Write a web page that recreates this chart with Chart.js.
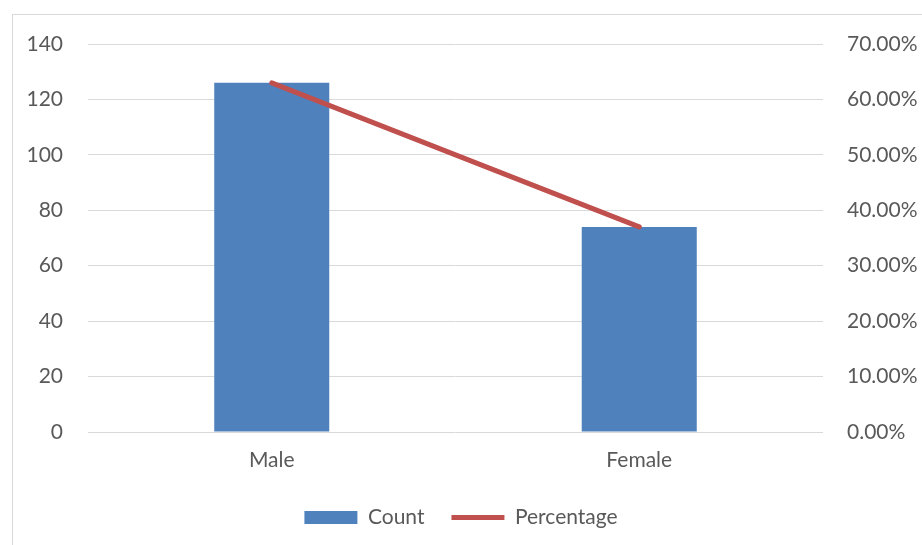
<!DOCTYPE html>
<html>
<head>
<meta charset="utf-8">
<script src="https://cdn.jsdelivr.net/npm/chart.js@4/dist/chart.umd.min.js"></script>
<style>
  html, body { margin: 0; padding: 0; background: #ffffff; }
  body { width: 922px; height: 545px; position: relative; overflow: hidden; }
  #frame { position: absolute; left: 12px; top: 14px; width: 1000px; height: 1000px; border: 1px solid #d9d9d9; box-sizing: border-box; }
  #chart { position: absolute; left: 0; top: 0; }
</style>
</head>
<body>
<div id="frame"></div>
<canvas id="chart" width="922" height="545"></canvas>
<script>
// Gender breakdown: counts on the left axis, share of total on the right axis
const categories = ['Male', 'Female'];
const counts = [126, 74];
const percentages = [63, 37];

const textColor = '#595959';
const fontFamily = 'Lato, "Open Sans", sans-serif';
const fontSize = 21;

new Chart(document.getElementById('chart'), {
  data: {
    labels: categories,
    datasets: [
      {
        type: 'bar',
        label: 'Count',
        data: counts,
        backgroundColor: '#4F81BD',
        borderWidth: 0,
        barPercentage: 0.313,
        categoryPercentage: 1,
        yAxisID: 'y',
        pointStyle: 'rect',
        order: 1
      },
      {
        type: 'line',
        label: 'Percentage',
        data: percentages,
        borderColor: '#C0504D',
        backgroundColor: '#C0504D',
        borderWidth: 5,
        borderCapStyle: 'round',
        pointRadius: 0,
        pointHoverRadius: 0,
        pointStyle: 'line',
        tension: 0,
        yAxisID: 'y1',
        order: 0
      }
    ]
  },
  options: {
    responsive: false,
    animation: false,
    layout: { padding: { top: 44, left: 0, right: 0, bottom: 7 } },
    plugins: {
      tooltip: { enabled: false },
      legend: {
        position: 'bottom',
        labels: {
          usePointStyle: true,
          pointStyleWidth: 53,
          boxHeight: 13,
          padding: 27,
          color: textColor,
          font: { family: fontFamily, size: fontSize },
          sort: (a, b) => a.datasetIndex - b.datasetIndex
        }
      }
    },
    scales: {
      x: {
        grid: { display: false },
        border: { display: false },
        ticks: { color: textColor, font: { family: fontFamily, size: fontSize }, padding: 8 },
        afterFit: (s) => { s.height = 48; }
      },
      y: {
        position: 'left',
        min: 0,
        max: 140,
        ticks: { stepSize: 20, color: textColor, font: { family: fontFamily, size: fontSize }, padding: 25 },
        grid: { color: '#d9d9d9', lineWidth: 1, drawTicks: false },
        border: { display: false },
        afterFit: (s) => { s.width = 88; }
      },
      y1: {
        position: 'right',
        min: 0,
        max: 70,
        ticks: {
          stepSize: 10,
          color: textColor,
          font: { family: fontFamily, size: fontSize },
          padding: 24,
          callback: (v) => v.toFixed(2) + '%'
        },
        grid: { display: false, drawTicks: false },
        border: { display: false },
        afterFit: (s) => { s.width = 99; }
      }
    }
  }
});
</script>
</body>
</html>
